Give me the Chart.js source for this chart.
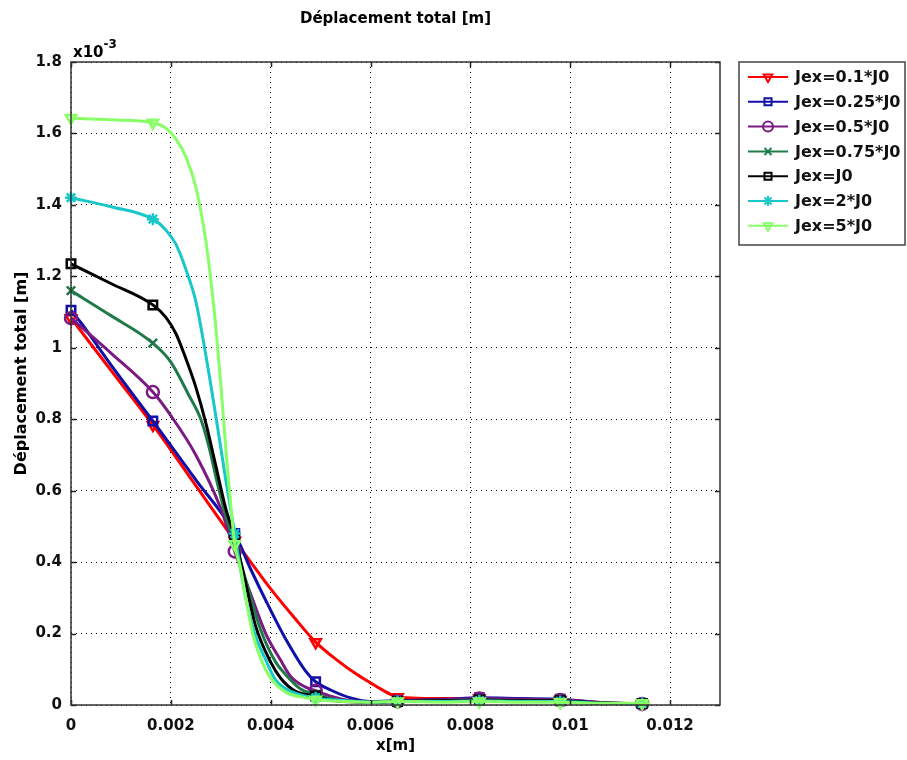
<!DOCTYPE html>
<html>
<head>
<meta charset="utf-8">
<script src="https://cdn.jsdelivr.net/npm/chart.js@4.4.1/dist/chart.umd.min.js"></script>
<style>
  html, body { margin: 0; padding: 0; background: #fff; }
  canvas { display: block; }
</style>
</head>
<body>
<canvas id="my-chart" width="907" height="760"></canvas>
<script>
'use strict';

// *************** DATA (y in units of 1e-3 m)
let xTicks = [0, 0.002, 0.004, 0.006, 0.008, 0.01, 0.012];
let yTicks = [0, 0.2, 0.4, 0.6, 0.8, 1, 1.2, 1.4, 1.6, 1.8];
let markX = [0, 0.00164, 0.00328, 0.0049, 0.00654, 0.00818, 0.0098, 0.01144];

let labels = ['Jex=0.1*J0', 'Jex=0.25*J0', 'Jex=0.5*J0', 'Jex=0.75*J0', 'Jex=J0', 'Jex=2*J0', 'Jex=5*J0'];

let xRed = [0, 0.0008, 0.00164, 0.0025, 0.00328, 0.0036, 0.004, 0.0045, 0.0049, 0.0054, 0.0057, 0.006, 0.0062, 0.0064, 0.00654, 0.0075, 0.00818, 0.009, 0.0098, 0.0105, 0.011, 0.01144];
let yRed = [1.083, 0.937, 0.784, 0.614, 0.46, 0.40, 0.325, 0.24, 0.176, 0.118, 0.088, 0.062, 0.045, 0.03, 0.022, 0.018, 0.018, 0.016, 0.014, 0.008, 0.005, 0.004];

let xBlue = [0, 0.0002, 0.0008, 0.00164, 0.0025, 0.00328, 0.0036, 0.004, 0.0043, 0.0047, 0.0049, 0.0052, 0.0056, 0.006, 0.00654, 0.0075, 0.00818, 0.009, 0.0098, 0.0105, 0.011, 0.01144];
let yBlue = [1.105, 1.07, 0.952, 0.795, 0.63, 0.48, 0.38, 0.265, 0.185, 0.095, 0.065, 0.042, 0.02, 0.01, 0.012, 0.016, 0.02, 0.018, 0.016, 0.008, 0.005, 0.004];

let xPurple = [0, 0.0008, 0.00164, 0.002, 0.0025, 0.003, 0.00328, 0.0036, 0.0039, 0.0042, 0.0044, 0.0047, 0.0049, 0.0052, 0.0056, 0.006, 0.00654, 0.0075, 0.00818, 0.009, 0.0098, 0.0105, 0.011, 0.01144];
let yPurple = [1.083, 0.985, 0.876, 0.81, 0.70, 0.55, 0.43, 0.31, 0.20, 0.125, 0.08, 0.05, 0.04, 0.025, 0.012, 0.008, 0.01, 0.015, 0.018, 0.016, 0.014, 0.008, 0.004, 0.003];

let xGreen = [0, 0.0008, 0.00164, 0.002, 0.00235, 0.0026, 0.00275, 0.00295, 0.00314, 0.00328, 0.0035, 0.0038, 0.0041, 0.0043, 0.0046, 0.0049, 0.0053, 0.006, 0.00654, 0.0075, 0.00818, 0.009, 0.0098, 0.0105, 0.011, 0.01144];
let yGreen = [1.16, 1.09, 1.013, 0.96, 0.87, 0.80, 0.73, 0.61, 0.51, 0.46, 0.35, 0.21, 0.12, 0.085, 0.045, 0.03, 0.015, 0.008, 0.01, 0.012, 0.014, 0.012, 0.012, 0.006, 0.004, 0.004];

let xBlack = [0, 0.0008, 0.00164, 0.0019, 0.0021, 0.0023, 0.0025, 0.0027, 0.0029, 0.0031, 0.00328, 0.0035, 0.0037, 0.004, 0.0042, 0.0045, 0.0049, 0.0053, 0.006, 0.00654, 0.0075, 0.00818, 0.009, 0.0098, 0.0105, 0.011, 0.01144];
let yBlack = [1.235, 1.18, 1.12, 1.085, 1.04, 0.97, 0.89, 0.79, 0.67, 0.55, 0.47, 0.34, 0.22, 0.12, 0.075, 0.038, 0.025, 0.012, 0.008, 0.01, 0.012, 0.014, 0.012, 0.012, 0.006, 0.004, 0.004];

let xCyan = [0, 0.0008, 0.00164, 0.0019, 0.0021, 0.0023, 0.0025, 0.0027, 0.0029, 0.0031, 0.00328, 0.0035, 0.00368, 0.0039, 0.0041, 0.0044, 0.0049, 0.0055, 0.006, 0.00654, 0.0075, 0.00818, 0.009, 0.0098, 0.0105, 0.011, 0.01144];
let yCyan = [1.42, 1.395, 1.36, 1.33, 1.29, 1.22, 1.13, 0.98, 0.81, 0.63, 0.48, 0.30, 0.20, 0.126, 0.07, 0.038, 0.02, 0.012, 0.008, 0.01, 0.01, 0.012, 0.01, 0.01, 0.005, 0.004, 0.004];

let xLime = [0, 0.0008, 0.00164, 0.0019, 0.0021, 0.0023, 0.0025, 0.0027, 0.0028, 0.0029, 0.003, 0.0031, 0.0032, 0.00328, 0.0034, 0.0035, 0.00364, 0.0038, 0.004, 0.0043, 0.0047, 0.0049, 0.0055, 0.006, 0.00654, 0.0075, 0.00818, 0.009, 0.0098, 0.0105, 0.01144, 0.0116];
let yLime = [1.643, 1.638, 1.63, 1.615, 1.585, 1.535, 1.45, 1.30, 1.19, 1.06, 0.90, 0.72, 0.56, 0.45, 0.38, 0.30, 0.20, 0.13, 0.075, 0.036, 0.02, 0.015, 0.01, 0.008, 0.01, 0.008, 0.01, 0.008, 0.008, 0.005, 0.005, 0.005];

let colors = ['#ff0000', '#1010a8', '#7a1a82', '#217a4a', '#000000', '#18c8c8', '#88ff66'];
let styles = ['triangle', 'rect', 'circle', 'crossRot', 'rect', 'star', 'triangle'];
let rotations = [180, 0, 0, 0, 0, 0, 180];

let seriesX = [xRed, xBlue, xPurple, xGreen, xBlack, xCyan, xLime];
let seriesY = [yRed, yBlue, yPurple, yGreen, yBlack, yCyan, yLime];

// *************** HELPERS
function isMark(x) {
  return markX.some(m => Math.abs(m - x) < 1e-7);
}

function fmt(v) {
  return String(Number(v.toFixed(4)));
}

let datasets = [];
for (let i = 0; i < labels.length; i++) {
  let pts = seriesX[i].map((x, j) => ({ x: x, y: seriesY[i][j] }));
  datasets.push({
    label: labels[i],
    data: pts,
    borderColor: colors[i],
    backgroundColor: 'rgba(0,0,0,0)',
    borderWidth: 3,
    pointStyle: styles[i],
    rotation: rotations[i],
    pointBorderColor: colors[i],
    pointBackgroundColor: 'rgba(0,0,0,0)',
    pointBorderWidth: 2.5,
    pointRadius: c => (c.raw && isMark(c.raw.x)) ? 6 : 0,
    cubicInterpolationMode: 'monotone',
    order: labels.length - i,
    clip: false
  });
}

// *************** DECORATIONS (title, box, legend)
let decor = {
  id: 'decor',
  afterDraw(chart) {
    let ctx = chart.ctx;
    let a = chart.chartArea;
    let xs = chart.scales.x, ys = chart.scales.y;
    ctx.save();

    // ticks pointing inward on all four sides
    ctx.strokeStyle = '#222';
    ctx.lineWidth = 1.5;
    ctx.beginPath();
    xTicks.forEach(v => {
      let px = Math.round(xs.getPixelForValue(v)) + 0.5;
      ctx.moveTo(px, a.bottom); ctx.lineTo(px, a.bottom - 5);
      ctx.moveTo(px, a.top); ctx.lineTo(px, a.top + 5);
    });
    yTicks.forEach(v => {
      let py = Math.round(ys.getPixelForValue(v)) + 0.5;
      ctx.moveTo(a.left, py); ctx.lineTo(a.left + 5, py);
      ctx.moveTo(a.right, py); ctx.lineTo(a.right - 5, py);
    });
    ctx.stroke();

    // plot box
    ctx.strokeStyle = '#333';
    ctx.lineWidth = 1.5;
    ctx.strokeRect(a.left, a.top, a.right - a.left, a.bottom - a.top);

    // texts
    ctx.fillStyle = '#000';
    ctx.textBaseline = 'middle';
    ctx.textAlign = 'center';
    ctx.font = 'bold 15px "DejaVu Sans"';
    ctx.fillText('Déplacement total [m]', (a.left + a.right) / 2, 19);
    ctx.fillText('x[m]', (a.left + a.right) / 2, 746);
    ctx.save();
    ctx.translate(22, (a.top + a.bottom) / 2 - 10);
    ctx.rotate(-Math.PI / 2);
    ctx.font = 'bold 16px "DejaVu Sans"';
    ctx.fillText('Déplacement total [m]', 0, 0);
    ctx.restore();

    ctx.textAlign = 'left';
    ctx.textBaseline = 'alphabetic';
    ctx.font = 'bold 15px "DejaVu Sans"';
    ctx.fillText('x10', a.left + 2, 57);
    let w = ctx.measureText('x10').width;
    ctx.font = 'bold 12px "DejaVu Sans"';
    ctx.fillText('-3', a.left + 2 + w, 48);

    // legend
    let lx = 739, ly = 62, lw = 166, lh = 183;
    ctx.strokeStyle = '#444';
    ctx.lineWidth = 1.5;
    ctx.strokeRect(lx, ly, lw, lh);
    ctx.font = 'bold 16px "DejaVu Sans"';
    ctx.textBaseline = 'middle';
    for (let i = 0; i < labels.length; i++) {
      let cy = 77 + i * 24.8;
      ctx.strokeStyle = colors[i];
      ctx.lineWidth = 2;
      ctx.beginPath();
      ctx.moveTo(748, cy); ctx.lineTo(788, cy);
      ctx.stroke();
      ctx.fillStyle = 'rgba(0,0,0,0)';
      Chart.helpers.drawPoint(ctx, {
        pointStyle: styles[i], rotation: rotations[i], radius: 5, borderWidth: 2
      }, 768, cy);
      ctx.fillStyle = '#111';
      ctx.fillText(labels[i], 795, cy + 1);
    }
    ctx.restore();
  }
};

// *************** CHART
Chart.defaults.font.family = '"DejaVu Sans", sans-serif';
let chartObj = {
  type: 'line',
  data: { datasets: datasets },
  options: {
    responsive: false,
    animation: false,
    devicePixelRatio: 1,
    layout: { padding: { left: 0, right: 187, top: 62, bottom: 0 } },
    plugins: { legend: { display: false }, tooltip: { enabled: false } },
    scales: {
      x: {
        type: 'linear',
        min: 0,
        max: 0.013,
        afterBuildTicks: s => { s.ticks = xTicks.map(v => ({ value: v })); },
        afterFit: s => { s.height = 55; },
        grid: { color: '#000', lineWidth: 1, drawTicks: false },
        border: { display: false, dash: [1, 4] },
        ticks: {
          padding: 12,
          color: '#111',
          font: { size: 15, weight: 'bold' },
          maxRotation: 0,
          callback: v => fmt(v)
        }
      },
      y: {
        type: 'linear',
        min: 0,
        max: 1.8,
        afterBuildTicks: s => { s.ticks = yTicks.map(v => ({ value: v })); },
        afterFit: s => { s.width = 71; },
        grid: { color: '#000', lineWidth: 1, drawTicks: false },
        border: { display: false, dash: [1, 4] },
        ticks: {
          padding: 9,
          color: '#111',
          font: { size: 15, weight: 'bold' },
          callback: v => fmt(v)
        }
      }
    }
  },
  plugins: [decor]
};

let ctx = document.getElementById('my-chart').getContext('2d');
let myChart = new Chart(ctx, chartObj);
</script>
</body>
</html>
